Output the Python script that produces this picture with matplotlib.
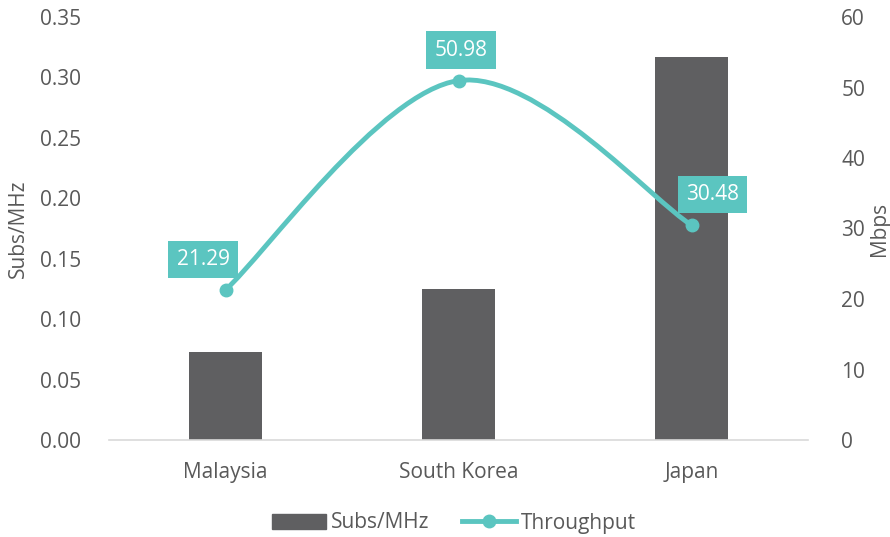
import numpy as np
import matplotlib.pyplot as plt
from matplotlib.path import Path
from matplotlib.patches import PathPatch
from matplotlib.lines import Line2D
from matplotlib.patches import Patch

plt.rcParams['font.family'] = ['Open Sans', 'DejaVu Sans']

countries = ['Malaysia', 'South Korea', 'Japan']
subs_per_mhz = [0.073, 0.125, 0.317]
throughput = [21.29, 50.98, 30.48]

BAR_COLOR = '#5F5F61'
TEAL = '#5BC5C0'
TEXT = '#595959'
FS = 15

fig = plt.figure(figsize=(8.9, 5.37), dpi=100)
ax = fig.add_axes([109 / 890, 97 / 537, 699 / 890, 423 / 537])
ax2 = ax.twinx()

x = np.arange(len(countries))
ax.bar(x, subs_per_mhz, width=0.31, color=BAR_COLOR, zorder=2)
ax.set_xlim(-0.5, len(countries) - 0.5)
ax.set_ylim(0, 0.35)
ax.set_yticks(np.arange(0, 0.351, 0.05))
ax.set_yticklabels([f'{v:.2f}' for v in np.arange(0, 0.351, 0.05)])
ax.set_xticks(x)
ax.set_xticklabels(countries)

# smoothed line, Bezier segments with Catmull-Rom style control points
pts = np.column_stack([x, throughput]).astype(float)
verts = [pts[0]]
codes = [Path.MOVETO]
n = len(pts)
for i in range(n - 1):
    p0 = pts[max(i - 1, 0)]
    p1 = pts[i]
    p2 = pts[i + 1]
    p3 = pts[min(i + 2, n - 1)]
    c1 = p1 + (p2 - p0) / 6
    c2 = p2 - (p3 - p1) / 6
    verts += [c1, c2, p2]
    codes += [Path.CURVE4] * 3
ax2.add_patch(PathPatch(Path(verts, codes), facecolor='none', edgecolor=TEAL,
                        lw=3.5, capstyle='round', zorder=3))
ax2.plot(x, throughput, 'o', color=TEAL, ms=9, zorder=4)
ax2.set_ylim(0, 60)
ax2.set_yticks(range(0, 61, 10))

# value boxes sit above each point, nudged sideways away from the line
label_dx = [-16, 2, 15]
for xi, v, dx in zip(x, throughput, label_dx):
    ax2.annotate(f'{v:.2f}', (xi, v), xytext=(dx, 22), textcoords='offset points',
                 ha='center', va='center', color='white', fontsize=FS,
                 bbox=dict(boxstyle='square,pad=0.4', fc=TEAL, ec='none'), zorder=5)

for a in (ax, ax2):
    for s in a.spines.values():
        s.set_visible(False)
    a.tick_params(length=0, labelsize=FS, labelcolor=TEXT)
ax.spines['bottom'].set_visible(True)
ax.spines['bottom'].set_color('#D9D9D9')
ax.spines['bottom'].set_linewidth(1.2)
ax.tick_params(axis='y', pad=20)
ax.tick_params(axis='x', pad=16)
ax2.tick_params(axis='y', pad=24)

fig.text(18 / 890, 1 - 229 / 537, 'Subs/MHz', rotation=90, ha='center', va='center',
         fontsize=FS, color=TEXT)
fig.text(879 / 890, 1 - 229 / 537, 'Mbps', rotation=90, ha='center', va='center',
         fontsize=FS, color=TEXT)

handles = [Patch(color=BAR_COLOR),
           Line2D([0], [0], color=TEAL, lw=3.5, marker='o', ms=9)]
fig.legend(handles, ['Subs/MHz', 'Throughput'], loc='center',
           bbox_to_anchor=(454 / 890, 1 - 523 / 537),
           ncol=2, frameon=False, fontsize=FS, labelcolor=TEXT, handlelength=2.6,
           handleheight=0.7, handletextpad=0.25, columnspacing=1.55)

fig.savefig('out.png', dpi=100)
